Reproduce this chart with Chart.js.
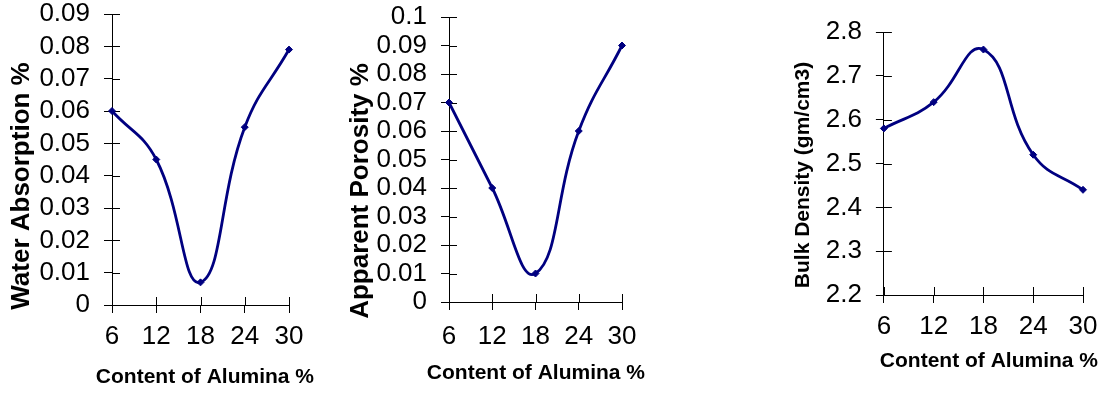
<!DOCTYPE html>
<html>
<head>
<meta charset="utf-8">
<script src="https://cdn.jsdelivr.net/npm/chart.js@4"></script>
<style>
  html, body { margin: 0; padding: 0; background: #fff; overflow: hidden; }
  body { width: 1106px; height: 396px; position: relative; }
  canvas { position: absolute; }
</style>
</head>
<body>
<canvas id="c1"></canvas>
<canvas id="c2"></canvas>
<canvas id="c3"></canvas>
<script>
// ---- data ----
const categories = [6, 12, 18, 24, 30];
const xTickLabels = ['6', '12', '18', '24', '30'];
const waterAbsorption = [0.06, 0.045, 0.007, 0.055, 0.079];
const apparentPorosity = [0.07, 0.04, 0.01, 0.06, 0.09];
const bulkDensity = [2.58, 2.64, 2.76, 2.52, 2.44];
const waterTicks = ['0', '0.01', '0.02', '0.03', '0.04', '0.05', '0.06', '0.07', '0.08', '0.09'];
const porosityTicks = ['0', '0.01', '0.02', '0.03', '0.04', '0.05', '0.06', '0.07', '0.08', '0.09', '0.1'];
const densityTicks = ['2.2', '2.3', '2.4', '2.5', '2.6', '2.7', '2.8'];
const xTitle = 'Content of Alumina %';
const yTitles = ['Water Absorption %', 'Apparent Porosity %', 'Bulk Density (gm/cm3)'];

// ---- style / layout ----
const FONT = "'Liberation Sans', Arial, sans-serif";
const NAVY = '#000080';
const layouts = [
  { id: 'c1', left: 0,   width: 314, T: 30, H: 426, padTop: 6,  tb: 38, rb: 25, yTitleSize: 26, yTitlePad: 6,    yW: 74.8, xTickPad: 8.4, xTitlePad: 5.9,  axisToBottom: 91 },
  { id: 'c2', left: 330, width: 315, T: 30, H: 426, padTop: 16, tb: 31, rb: 23, yTitleSize: 26, yTitlePad: 15.7, yW: 72.1, xTickPad: 11,  xTitlePad: 9.9,  axisToBottom: 94 },
  { id: 'c3', left: 760, width: 338, T: 50, H: 446, padTop: 4,  tb: 78, rb: 15, yTitleSize: 21, yTitlePad: 31,   yW: 67.7, xTickPad: 8,   xTitlePad: 21.7, axisToBottom: 101 }
];
const X_TITLE_SIZE = 21;

const innerTicks = {
  id: 'innerTicks',
  beforeDatasetsDraw(chart) {
    const ctx = chart.ctx, xs = chart.scales.x, ys = chart.scales.y;
    ctx.save();
    ctx.strokeStyle = '#000';
    ctx.lineWidth = 1;
    ctx.beginPath();
    xs.ticks.forEach((t, i) => {
      const px = Math.round(xs.getPixelForTick(i)) + 0.5;
      ctx.moveTo(px, xs.top); ctx.lineTo(px, xs.top - 8);
    });
    ys.ticks.forEach((t, i) => {
      const py = Math.round(ys.getPixelForTick(i)) + 0.5;
      ctx.moveTo(ys.right, py); ctx.lineTo(ys.right + 8, py);
    });
    ctx.stroke();
    ctx.restore();
  }
};

function makeChart(L, values, yTicks, yTitle) {
  const cv = document.getElementById(L.id);
  cv.setAttribute('width', L.width);
  cv.setAttribute('height', L.H);
  cv.style.left = L.left + 'px';
  cv.style.top = (-L.T) + 'px';
  cv.style.width = L.width + 'px';
  cv.style.height = L.H + 'px';
  const yVals = yTicks.map(parseFloat);
  const subH = X_TITLE_SIZE * 1.2 + L.xTitlePad;
  const xH = L.axisToBottom - subH;
  return new Chart(cv, {
    type: 'line',
    data: {
      datasets: [{
        data: categories.map((c, i) => ({ x: c, y: values[i] })),
        borderColor: NAVY,
        backgroundColor: NAVY,
        borderWidth: 2.8,
        tension: 0.45,
        fill: false,
        clip: false,
        pointStyle: 'rectRot',
        pointRadius: 3.5,
        pointBorderWidth: 1,
        pointBackgroundColor: NAVY,
        pointBorderColor: NAVY
      }]
    },
    options: {
      responsive: false,
      animation: false,
      devicePixelRatio: 1,
      layout: { padding: { top: L.padTop, right: 0, left: 0, bottom: 0 } },
      plugins: {
        legend: { display: false },
        tooltip: { enabled: false },
        title: {
          display: true,
          position: 'left',
          fullSize: true,
          align: 'center',
          text: yTitle,
          color: '#000',
          font: { family: FONT, size: L.yTitleSize, weight: 'bold', lineHeight: 1.2 },
          padding: { top: L.yTitlePad, bottom: 0 }
        },
        subtitle: {
          display: true,
          position: 'bottom',
          fullSize: true,
          align: 'end',
          text: xTitle,
          color: '#000',
          font: { family: FONT, size: X_TITLE_SIZE, weight: 'bold', lineHeight: 1.2 },
          padding: { top: 0, bottom: L.xTitlePad }
        }
      },
      scales: {
        x: {
          type: 'linear',
          position: 'bottom',
          min: categories[0],
          max: categories[categories.length - 1],
          afterBuildTicks: s => { s.ticks = categories.map(v => ({ value: v })); },
          afterFit: s => { s.height = xH; s.paddingLeft = 0; s.paddingRight = 0; },
          ticks: {
            color: '#000',
            padding: L.xTickPad,
            maxRotation: 0,
            autoSkip: false,
            font: { family: FONT, size: 26, lineHeight: 1.2 },
            callback: (v) => xTickLabels[categories.indexOf(v)] ?? ''
          },
          grid: { drawOnChartArea: false, drawTicks: true, tickLength: 8, color: '#000', lineWidth: 1 },
          border: { display: true, color: '#000', width: 1 }
        },
        x2: {
          type: 'linear',
          position: 'top',
          display: true,
          ticks: { display: false },
          grid: { display: false },
          border: { display: false },
          afterFit: s => { s.height = L.tb; }
        },
        y: {
          type: 'linear',
          position: 'left',
          min: yVals[0],
          max: yVals[yVals.length - 1],
          afterBuildTicks: s => { s.ticks = yVals.map(v => ({ value: v })); },
          afterFit: s => { s.width = L.yW; },
          ticks: {
            color: '#000',
            padding: 14,
            autoSkip: false,
            font: { family: FONT, size: 26, lineHeight: 1.2 },
            callback: (v) => {
              const i = yVals.findIndex(t => Math.abs(t - v) < 1e-9);
              return i >= 0 ? yTicks[i] : '';
            }
          },
          grid: { drawOnChartArea: false, drawTicks: true, tickLength: 8, color: '#000', lineWidth: 1 },
          border: { display: true, color: '#000', width: 1 }
        },
        y2: {
          type: 'linear',
          position: 'right',
          display: true,
          ticks: { display: false },
          grid: { display: false },
          border: { display: false },
          afterFit: s => { s.width = L.rb; }
        }
      }
    },
    plugins: [innerTicks]
  });
}

makeChart(layouts[0], waterAbsorption, waterTicks, yTitles[0]);
makeChart(layouts[1], apparentPorosity, porosityTicks, yTitles[1]);
makeChart(layouts[2], bulkDensity, densityTicks, yTitles[2]);
</script>
</body>
</html>
